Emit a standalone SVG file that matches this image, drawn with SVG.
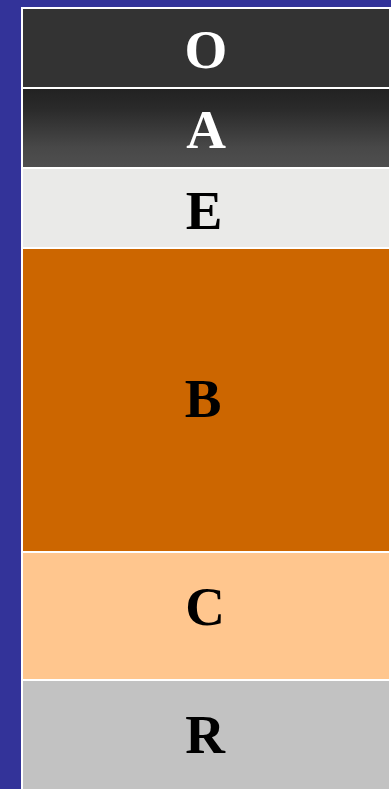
<svg xmlns="http://www.w3.org/2000/svg" width="391" height="789" viewBox="0 0 391 789">
  <style>
    .lbl { font-family: "Liberation Serif", "Times New Roman", serif; font-weight: bold; font-size: 55px; text-anchor: middle; }
    .w { fill: #ffffff; }
    .k { fill: #000000; }
  </style>
  <defs>
    <linearGradient id="gA" x1="0" y1="0" x2="0" y2="1">
      <stop offset="0" stop-color="#222222"/>
      <stop offset="0.25" stop-color="#2a2a2a"/>
      <stop offset="0.75" stop-color="#484848"/>
      <stop offset="1" stop-color="#4f4f4f"/>
    </linearGradient>
  </defs>
  <rect x="0" y="0" width="391" height="789" fill="#333399"/>
  <rect x="21" y="7" width="370" height="782" fill="#ffffff"/>
  <g id="O">
    <rect x="23" y="9" width="366" height="78" fill="#333333"/>
    <text class="lbl w" x="206" y="68">O</text>
  </g>
  <g id="A">
    <rect x="23" y="89" width="366" height="78" fill="url(#gA)"/>
    <text class="lbl w" x="206" y="148">A</text>
  </g>
  <g id="E">
    <rect x="23" y="169" width="366" height="78" fill="#eaeae8"/>
    <text class="lbl k" x="204" y="229">E</text>
  </g>
  <g id="B">
    <rect x="23" y="249" width="366" height="302" fill="#cc6600"/>
    <text class="lbl k" x="203" y="417">B</text>
  </g>
  <g id="C">
    <rect x="23" y="553" width="366" height="126" fill="#ffc68e"/>
    <text class="lbl k" x="205" y="625">C</text>
  </g>
  <g id="R">
    <rect x="23" y="681" width="366" height="108" fill="#c2c2c2"/>
    <text class="lbl k" x="205" y="753">R</text>
  </g>
  <g id="connectors"/>
</svg>
